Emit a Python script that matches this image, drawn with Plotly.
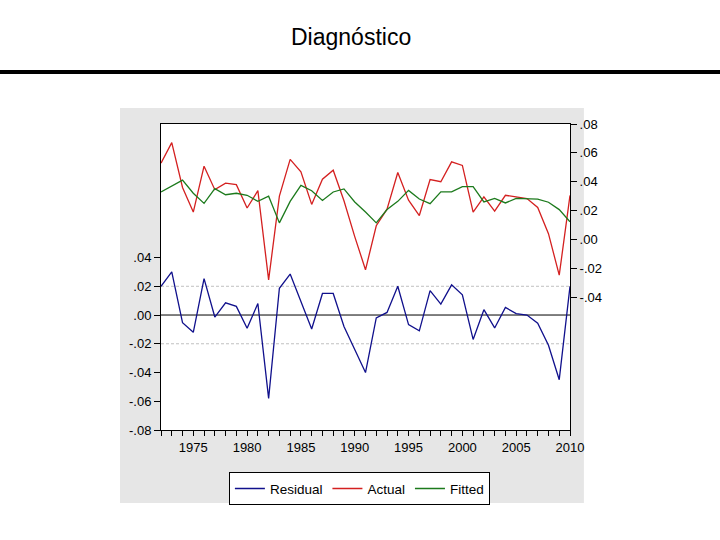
import plotly.graph_objects as go

years = list(range(1972, 2011))

residual = [0.020, 0.030, -0.0053, -0.012, 0.0253, -0.0014, 0.0085, 0.006, -0.0092, 0.008,
            -0.058, 0.0186, 0.0285, 0.009, -0.0097, 0.015, 0.015, -0.008, -0.024, -0.040,
            -0.002, 0.0018, 0.020, -0.0067, -0.011, 0.017, 0.0076, 0.021, 0.014, -0.017,
            0.0037, -0.009, 0.0053, 0.001, 0.0, -0.0057, -0.021, -0.045, 0.020]

actual = [0.0529, 0.0671, 0.036, 0.019, 0.0508, 0.0345, 0.039, 0.038, 0.0218, 0.0338,
          -0.028, 0.030, 0.0555, 0.0468, 0.0243, 0.0418, 0.048, 0.0268, 0.002, -0.021,
          0.0095, 0.021, 0.0464, 0.0272, 0.0166, 0.0415, 0.040, 0.0538, 0.0513, 0.019,
          0.0295, 0.0196, 0.0306, 0.0295, 0.0283, 0.0222, 0.004, -0.0247, 0.0305]

fitted = [0.0329, 0.0368, 0.0411, 0.032, 0.025, 0.0352, 0.031, 0.032, 0.0306, 0.0264,
          0.030, 0.0115, 0.0264, 0.0375, 0.0338, 0.027, 0.0329, 0.035, 0.026, 0.019,
          0.0115, 0.0207, 0.0264, 0.034, 0.028, 0.0248, 0.033, 0.033, 0.0366, 0.0366,
          0.026, 0.0285, 0.0253, 0.0285, 0.0285, 0.028, 0.0258, 0.0207, 0.0122]

left_ticks = [-0.08, -0.06, -0.04, -0.02, 0.0, 0.02, 0.04]
left_labels = ["-.08", "-.06", "-.04", "-.02", ".00", ".02", ".04"]
right_ticks = [-0.04, -0.02, 0.0, 0.02, 0.04, 0.06, 0.08]
right_labels = ["-.04", "-.02", ".00", ".02", ".04", ".06", ".08"]

FONT = "Liberation Sans, Arial, sans-serif"

fig = go.Figure()
fig.add_trace(go.Scatter(x=years, y=residual, name="Residual", mode="lines",
                         line=dict(color="#10108c", width=1.3), yaxis="y"))
fig.add_trace(go.Scatter(x=years, y=actual, name="Actual", mode="lines",
                         line=dict(color="#d42020", width=1.3), yaxis="y2"))
fig.add_trace(go.Scatter(x=years, y=fitted, name="Fitted", mode="lines",
                         line=dict(color="#1c7a1c", width=1.3), yaxis="y2"))

shapes = [
    # gray panel
    dict(type="rect", xref="paper", yref="paper", x0=-0.1002, x1=1.034, y0=-0.2386, y1=1.052,
         fillcolor="#e6e6e6", line=dict(width=0), layer="below"),
    # white plot area
    dict(type="rect", xref="paper", yref="paper", x0=0, x1=1, y0=0, y1=1,
         fillcolor="white", line=dict(width=0), layer="below"),
    # thick rule under title
    dict(type="line", xref="paper", yref="paper", x0=-0.40, x1=1.37, y0=1.170, y1=1.170,
         line=dict(color="black", width=4)),
    # reference lines
    dict(type="line", xref="paper", yref="y", x0=0, x1=1, y0=0.02, y1=0.02,
         line=dict(color="#c0c0c0", width=1, dash="3px,2px"), layer="below"),
    dict(type="line", xref="paper", yref="y", x0=0, x1=1, y0=-0.02, y1=-0.02,
         line=dict(color="#c0c0c0", width=1, dash="3px,2px"), layer="below"),
    dict(type="line", xref="paper", yref="y", x0=0, x1=1, y0=0, y1=0,
         line=dict(color="black", width=1), layer="below"),
]

fig.update_layout(
    width=720, height=540,
    margin=dict(l=161, r=150, t=124, b=110),
    paper_bgcolor="white", plot_bgcolor="white",
    font=dict(family=FONT, size=12, color="black"),
    showlegend=True,
    legend=dict(orientation="h", x=0.166, y=-0.138, xanchor="left", yanchor="top",
                bgcolor="white", bordercolor="black", borderwidth=1,
                font=dict(size=13.5, family=FONT), itemwidth=30,
                tracegroupgap=0),
    xaxis=dict(range=[1972, 2010], tickmode="linear", tick0=1975, dtick=5,
               ticks="outside", ticklen=5, tickcolor="black",
               minor=dict(dtick=1, tick0=1972, ticks="outside", ticklen=5, tickcolor="black", showgrid=False),
               showgrid=False, zeroline=False, showline=True, linecolor="black", linewidth=1,
               mirror=True, tickfont=dict(size=13, family=FONT)),
    yaxis=dict(range=[-0.08, 0.1329], tickmode="array", tickvals=left_ticks, ticktext=left_labels,
               ticks="outside", ticklen=6, tickcolor="black", showgrid=False, zeroline=False,
               showline=True, linecolor="black", linewidth=1, tickfont=dict(size=13, family=FONT)),
    yaxis2=dict(range=[-0.132, 0.08], overlaying="y", side="right",
                tickmode="array", tickvals=right_ticks, ticktext=right_labels,
                ticks="outside", ticklen=6, tickcolor="black", showgrid=False, zeroline=False,
                showline=True, linecolor="black", linewidth=1, tickfont=dict(size=13, family=FONT)),
    shapes=shapes,
    annotations=[dict(text="Diagnóstico", xref="paper", yref="paper", x=0.4645, y=1.284,
                      xanchor="center", yanchor="middle", showarrow=False,
                      font=dict(size=23, family=FONT, color="black"))],
)

fig.write_html("out.html", config={"displayModeBar": False},
               post_script="document.body.style.margin='0';")
